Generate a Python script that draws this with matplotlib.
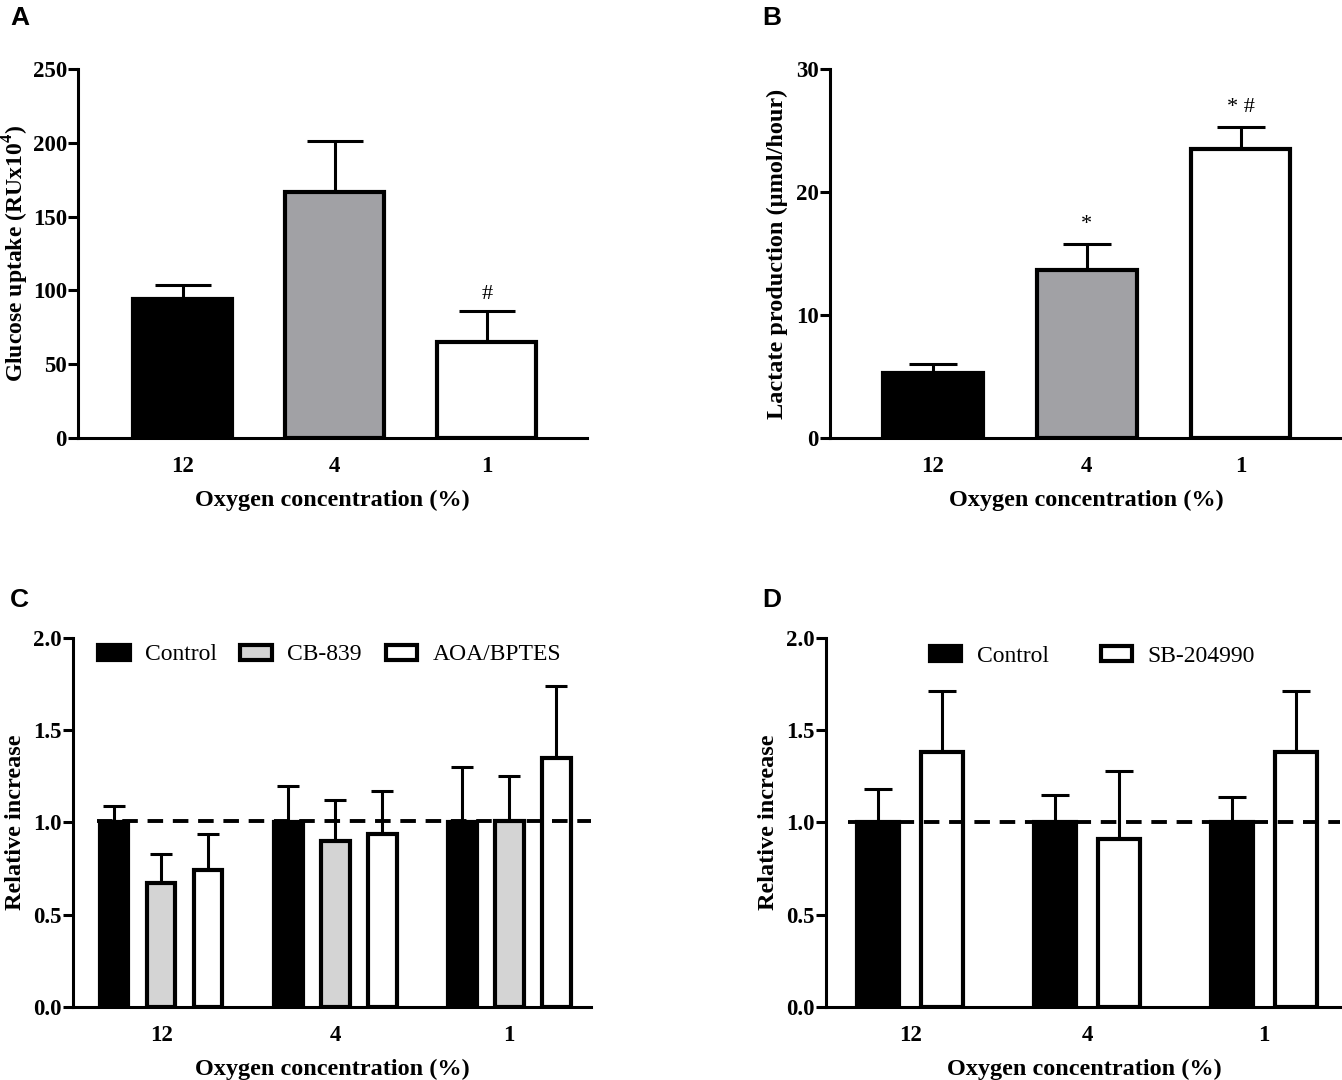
import matplotlib
matplotlib.use("Agg")
import matplotlib.pyplot as plt
import numpy as np

plt.rcParams['font.family'] = ['Liberation Serif', 'DejaVu Serif']
plt.rcParams['mathtext.fontset'] = 'custom'
plt.rcParams['mathtext.rm'] = 'Liberation Serif'
plt.rcParams['mathtext.bf'] = 'Liberation Serif:bold'

# ---- data ----
oxygen = ['12', '4', '1']

glucose = [94, 167, 65]
glucose_err = [9.5, 34, 21]

lactate = [5.3, 13.7, 23.5]
lactate_err = [0.75, 2.1, 1.8]

c_groups = ['Control', 'CB-839', 'AOA/BPTES']
c_means = [[1.0, 1.0, 1.0], [0.67, 0.90, 1.01], [0.74, 0.94, 1.35]]
c_errs = [[0.09, 0.20, 0.30], [0.16, 0.22, 0.24], [0.20, 0.23, 0.39]]

d_groups = ['Control', 'SB-204990']
d_means = [[1.0, 1.0, 1.0], [1.38, 0.91, 1.38]]
d_errs = [[0.18, 0.15, 0.14], [0.33, 0.37, 0.33]]

ABC_COLORS = ['black', '#a1a1a5', 'white']
C_COLORS = ['black', '#d4d4d4', 'white']
D_COLORS = ['black', 'white']

TICK_FS = 16.5
LABEL_FS = 17.5


def style_axes(ax, ymax, ystep, ytick_fmt):
    for s in ['top', 'right']:
        ax.spines[s].set_visible(False)
    ax.spines['left'].set_linewidth(2.2)
    ax.spines['bottom'].set_linewidth(2.2)
    ax.set_ylim(0, ymax)
    ticks = np.arange(0, ymax + ystep / 2, ystep)
    ax.set_yticks(ticks)
    ax.set_yticklabels([ytick_fmt.format(v) for v in ticks], fontweight='bold', fontsize=TICK_FS)
    ax.tick_params(axis='y', length=7, width=2.2, pad=1)
    ax.tick_params(axis='x', length=0, pad=13, labelsize=TICK_FS)
    for t in ax.get_xticklabels():
        t.set_fontweight('bold')
    ax.set_xlabel('Oxygen concentration (%)', fontsize=LABEL_FS, fontweight='bold', labelpad=9)


fig = plt.figure(figsize=(13.42, 10.8), dpi=100)

# ---- A ----
axA = fig.add_axes([0.0581, 0.5944, 0.3793, 0.3417])
x = np.arange(3)
axA.bar(x, glucose, width=0.65, color=ABC_COLORS, edgecolor='black', linewidth=3, zorder=3)
axA.errorbar(x, glucose, yerr=[[0, 0, 0], glucose_err], fmt='none', ecolor='black',
             elinewidth=2.2, capsize=20, capthick=2.2, zorder=2)
axA.set_xlim(-0.69, 2.66)
axA.set_xticks(x)
axA.set_xticklabels(oxygen)
style_axes(axA, 250, 50, '{:.0f}')
axA.set_ylabel(r'Glucose uptake (RUx10$^{\mathbf{4}}$)', fontsize=17, fontweight='bold', labelpad=1)
axA.text(x[2], glucose[2] + glucose_err[2] + 5, '#', ha='center', va='bottom', fontsize=16)

# ---- B ----
axB = fig.add_axes([0.6185, 0.5944, 0.3815, 0.3417])
axB.bar(x, lactate, width=0.65, color=ABC_COLORS, edgecolor='black', linewidth=3, zorder=3)
axB.errorbar(x, lactate, yerr=[[0, 0, 0], lactate_err], fmt='none', ecolor='black',
             elinewidth=2.2, capsize=17, capthick=2.2, zorder=2)
axB.set_xlim(-0.67, 2.66)
axB.set_xticks(x)
axB.set_xticklabels(oxygen)
style_axes(axB, 30, 10, '{:.0f}')
axB.set_ylabel('Lactate production (\u00b5mol/hour)', fontsize=LABEL_FS, fontweight='bold', labelpad=6)
axB.text(x[1], lactate[1] + lactate_err[1] + 0.8, '*', ha='center', va='bottom', fontsize=16)
axB.text(x[2], lactate[2] + lactate_err[2] + 0.8, '* #', ha='center', va='bottom', fontsize=16)

# ---- C ----
axC = fig.add_axes([0.0544, 0.0676, 0.386, 0.3417])
offsets = [-0.27, 0.0, 0.27]
for i, name in enumerate(c_groups):
    axC.bar(x + offsets[i], c_means[i], width=0.165, color=C_COLORS[i], edgecolor='black',
            linewidth=3, zorder=3, label=name)
    axC.errorbar(x + offsets[i], c_means[i], yerr=[[0, 0, 0], c_errs[i]], fmt='none',
                 ecolor='black', elinewidth=2.2, capsize=8, capthick=2.2, zorder=2)
axC.plot([-0.37, 2.47], [1.01, 1.01], color='black', lw=2.8, ls=(0, (4, 2.5)), zorder=4)
axC.set_xlim(-0.506, 2.47)
axC.set_xticks(x)
axC.set_xticklabels(oxygen)
style_axes(axC, 2.0, 0.5, '{:.1f}')
axC.set_ylabel('Relative increase', fontsize=LABEL_FS, fontweight='bold', labelpad=5)
axC.legend(loc='upper left', ncol=3, frameon=False, fontsize=17, handlelength=1.34,
           handleheight=0.6, columnspacing=1.0, handletextpad=0.65,
           bbox_to_anchor=(0.007, 1.04))

# ---- D ----
axD = fig.add_axes([0.6155, 0.0676, 0.3845, 0.3417])
offsets_d = [-0.18, 0.18]
for i, name in enumerate(d_groups):
    axD.bar(x + offsets_d[i], d_means[i], width=0.24, color=D_COLORS[i], edgecolor='black',
            linewidth=3, zorder=3, label=name)
    axD.errorbar(x + offsets_d[i], d_means[i], yerr=[[0, 0, 0], d_errs[i]], fmt='none',
                 ecolor='black', elinewidth=2.2, capsize=10, capthick=2.2, zorder=2)
axD.plot([-0.35, 2.43], [1.0, 1.0], color='black', lw=2.8, ls=(0, (4, 2.5)), zorder=4)
axD.set_xlim(-0.475, 2.44)
axD.set_xticks(x)
axD.set_xticklabels(oxygen)
style_axes(axD, 2.0, 0.5, '{:.1f}')
axD.set_ylabel('Relative increase', fontsize=LABEL_FS, fontweight='bold', labelpad=5)
axD.legend(loc='upper left', ncol=2, frameon=False, fontsize=17, handlelength=1.34,
           handleheight=0.6, columnspacing=2.2, handletextpad=0.65,
           bbox_to_anchor=(0.16, 1.035))

# panel letters
for lbl, (px, py) in zip('ABCD', [(10, 18), (762, 18), (10, 600), (762, 600)]):
    fig.text(px / 1342, 1 - py / 1080, lbl, family='Liberation Sans', fontweight='bold',
             fontsize=19, ha='left', va='center')

fig.savefig('out.png', dpi=100)
